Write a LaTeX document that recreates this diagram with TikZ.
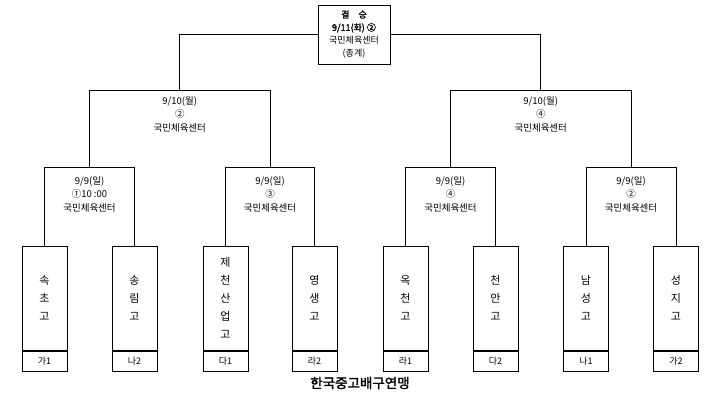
\documentclass[tikz,border=0pt]{standalone}
\usepackage{fontspec}
\usetikzlibrary{calc}
\setmainfont{Noto Sans CJK KR}[AutoFakeBold=2]
\begin{document}
\begin{tikzpicture}[x=1pt,y=-1pt,line width=0.8pt,
  lbl/.style={font=\fontsize{9.5}{13.5}\selectfont,align=center,inner sep=0pt},
  team/.style={draw,minimum width=45pt,minimum height=104pt,anchor=north,font=\fontsize{11}{18}\selectfont,align=center,inner sep=0pt},
  grp/.style={draw,minimum width=45pt,minimum height=20pt,anchor=north,font=\fontsize{9}{10}\selectfont,inner sep=0pt}]
\useasboundingbox (0,0) rectangle (720,403);
\node[draw,minimum width=72pt,minimum height=59pt,align=center,inner sep=0pt,font=\fontsize{9}{14}\selectfont] (fin) at (354,34.5)
  {\textbf{결\quad 승}\\[-1pt]\textbf{9/11(화) ②}\\[-1pt]국민체육센터\\[-1pt](종계)};
% teams
\foreach \n/\x/\t/\g in {t1/44.5/속\\초\\고/가1, t2/134.5/송\\림\\고/나2, t3/225.5/제\\천\\산\\업\\고/다1, t4/314.5/영\\생\\고/라2,
  t5/405.5/옥\\천\\고/라1, t6/495.5/천\\안\\고/다2, t7/586/남\\성\\고/나1, t8/676/성\\지\\고/가2}{
  \node[team] (\n) at (\x,246) {\t};
  \node[grp] (\n g) at (\n.south) {\g};
}
% quarter brackets
\foreach \a/\b/\q/\txt in {t1/t2/q1/{9/9(일)\\①10 :00\\국민체육센터}, t3/t4/q2/{9/9(일)\\③\\국민체육센터},
  t5/t6/q3/{9/9(일)\\④\\국민체육센터}, t7/t8/q4/{9/9(일)\\②\\국민체육센터}}{
  \draw (\a.north) -- ++(0,-79) coordinate (\a top) -| (\b.north);
  \coordinate (\q) at ($(\a top)!0.5!(\b.north |- \a top)$);
  \node[lbl,anchor=north] at ([yshift=-9]\q) {\txt};
}
% semis
\foreach \a/\b/\s/\txt in {q1/q2/s1/{9/10(월)\\②\\국민체육센터}, q3/q4/s2/{9/10(월)\\④\\국민체육센터}}{
  \draw (\a) -- ++(0,-77) coordinate (\a top) -| (\b);
  \coordinate (\s) at ($(\a top)!0.5!(\b |- \a top)$);
  \node[lbl,anchor=north] at ([yshift=-6]\s) {\txt};
}
\draw (fin.west) -| (s1);
\draw (fin.east) -| (s2);
\node[font=\fontsize{13.5}{15}\selectfont\bfseries] (title) at (360,383) {한국중고배구연맹};
\end{tikzpicture}
\end{document}
